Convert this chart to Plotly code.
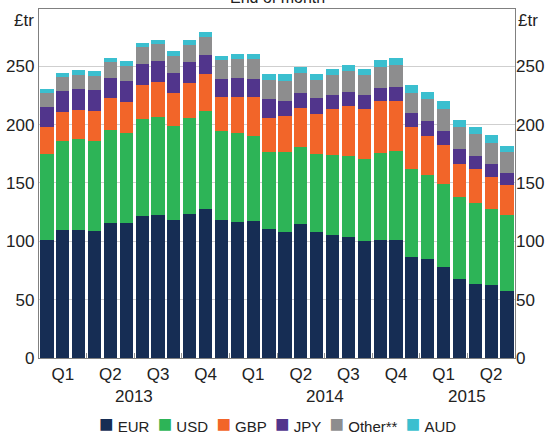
import plotly.graph_objects as go

months = [f"{y}-{m:02d}" for y in (2013, 2014, 2015) for m in range(1, 13)][:30]

EUR = [101.4, 109.7, 109.7, 109.1, 115.4, 115.4, 121.4, 122.8, 118.0, 123.1, 127.4, 118.0, 116.3, 117.4, 110.6,
       108.3, 114.6, 108.3, 105.7, 104.0, 100.3, 101.1, 101.1, 86.3, 84.6, 77.7, 67.7, 63.4, 62.8, 57.7]
USD = [73.5, 76.6, 78.3, 76.9, 80.3, 77.1, 83.7, 83.8, 80.5, 82.9, 84.3, 76.8, 76.5, 72.6, 66.0,
       68.5, 66.5, 66.3, 68.0, 69.4, 70.3, 74.3, 76.3, 75.4, 72.0, 71.3, 70.0, 69.7, 64.9, 64.5]
GBP = [23.4, 24.5, 24.8, 26.0, 26.8, 26.6, 28.9, 30.2, 28.9, 30.0, 31.4, 29.2, 31.2, 33.4, 29.1,
       30.6, 33.2, 34.8, 40.0, 42.6, 42.5, 44.6, 43.1, 36.6, 33.9, 33.6, 28.8, 28.9, 27.4, 26.3]
JPY = [17.1, 17.7, 18.0, 17.4, 17.5, 18.0, 17.7, 17.5, 17.1, 17.4, 16.9, 15.4, 16.0, 15.7, 16.0,
       12.6, 12.8, 13.1, 11.7, 12.3, 12.0, 11.7, 11.8, 11.4, 12.3, 12.2, 12.6, 11.1, 10.9, 10.3]
OTHER = [11.6, 12.3, 12.0, 12.6, 13.4, 13.2, 14.6, 14.5, 14.1, 14.6, 15.4, 15.7, 16.3, 17.2, 16.8,
         17.7, 17.4, 16.0, 16.8, 17.4, 17.1, 17.4, 18.6, 17.7, 19.2, 18.9, 18.9, 18.9, 17.9, 17.5]
AUD = [3.6, 3.7, 4.0, 4.0, 4.0, 4.3, 3.7, 4.0, 4.2, 4.3, 4.3, 4.0, 4.5, 4.5, 5.2,
       5.3, 4.9, 5.2, 5.2, 5.4, 5.5, 6.3, 6.0, 6.3, 6.0, 6.2, 6.3, 6.3, 7.2, 5.7]

series_names = ["EUR", "USD", "GBP", "JPY", "Other**", "AUD"]
series_values = [EUR, USD, GBP, JPY, OTHER, AUD]
colors = ["#162d54", "#2db457", "#f26529", "#51358c", "#8d8d8e", "#3bbfcf"]

quarter_labels = ["Q1", "Q2", "Q3", "Q4"] * 2 + ["Q1", "Q2"]
year_labels = ["2013", "2014", "2015"]
year_pos = [5.5, 17.5, 26.5]
y_ticks = [0, 50, 100, 150, 200, 250]

FONT = "Liberation Sans, Arial, sans-serif"
x = list(range(len(months)))

fig = go.Figure()
for name, vals, col in zip(series_names, series_values, colors):
    fig.add_trace(go.Bar(x=x, y=vals, name=name, marker=dict(color=col, line=dict(width=0)),
                         customdata=months))

fig.update_layout(
    barmode="stack",
    bargap=0.17,
    width=556, height=436,
    margin=dict(l=39, r=41, t=9, b=78, autoexpand=False),
    paper_bgcolor="white", plot_bgcolor="white",
    font=dict(family=FONT, size=17, color="#222222"),
    showlegend=False,
    xaxis=dict(range=[-0.5, 29.5], tickmode="array", tickvals=[1 + 3 * i for i in range(10)],
               ticktext=quarter_labels, ticks="", showgrid=False, zeroline=False,
               showline=True, linecolor="#808080", linewidth=1.3, mirror=True,
               minor=dict(tickmode="array", tickvals=[2.5 + 3 * i for i in range(9)],
                          ticks="inside", ticklen=5, tickcolor="#909090", tickwidth=1.3, showgrid=False)),
    yaxis=dict(range=[0, 299], tickvals=y_ticks, ticks="", showgrid=True, gridcolor="#cfcfcf",
               gridwidth=1, zeroline=False, showline=True, linecolor="#808080", linewidth=1.3,
               mirror=True),
    yaxis2=dict(range=[0, 299], tickvals=y_ticks, ticks="", overlaying="y", side="right",
                showgrid=False, zeroline=False, showline=False),
)

# invisible trace to anchor the right-hand axis
fig.add_trace(go.Scatter(x=[0], y=[0], yaxis="y2", mode="markers", marker=dict(opacity=0),
                         showlegend=False, hoverinfo="skip"))

for lab, pos in zip(year_labels, year_pos):
    fig.add_annotation(x=pos, y=0, xref="x", yref="paper", text=lab, showarrow=False,
                       yanchor="top", yshift=-27, font=dict(size=17))

fig.add_annotation(x=0, y=1, xref="paper", yref="paper", text="£tr", showarrow=False,
                   xanchor="right", yanchor="top", xshift=-3, yshift=0, font=dict(size=17))
fig.add_annotation(x=1, y=1, xref="paper", yref="paper", text="£tr", showarrow=False,
                   xanchor="left", yanchor="top", xshift=1, yshift=0, font=dict(size=17))
fig.add_annotation(x=0.5, y=1, xref="paper", yref="paper", text="End of month", showarrow=False,
                   xanchor="center", yanchor="bottom", yshift=1, font=dict(size=16))

# legend row (series names with colour keys)
legend_text = "&nbsp;&nbsp;".join(
    f"<span style='color:{c};font-size:24px'>■</span>&nbsp;{n}" for n, c in zip(series_names, colors))
fig.add_annotation(x=0.5, y=0, xref="paper", yref="paper", text=legend_text, showarrow=False,
                   xanchor="center", yanchor="middle", yshift=-65, font=dict(size=15))

fig.write_html("out.html", config={"displayModeBar": False},
               post_script="document.body.style.margin='0';")
